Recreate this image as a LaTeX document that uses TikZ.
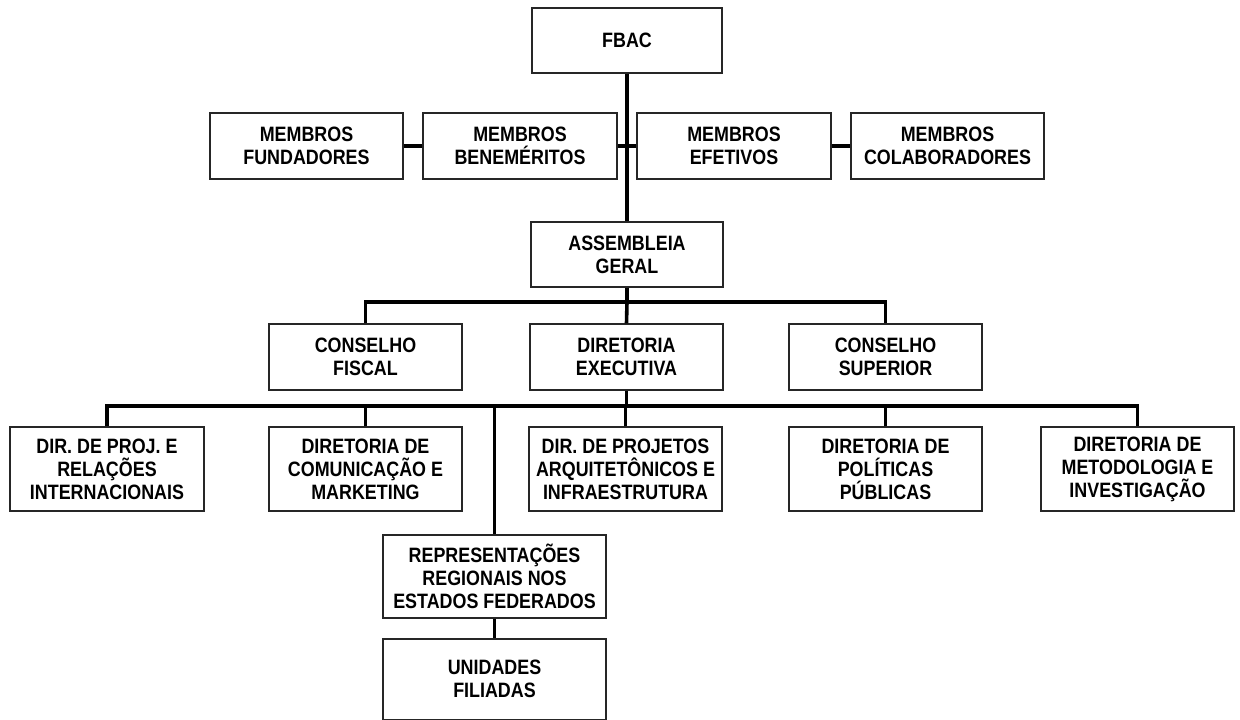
\documentclass[tikz,border=0pt]{standalone}
\usepackage{fontspec}
\setmainfont{Liberation Sans}
\newfontfamily\boxfont[FakeStretch=0.86]{Liberation Sans}
\begin{document}
\begin{tikzpicture}[x=1pt,y=-1pt,
  orgbox/.style={draw=black!85, line width=1.1pt, fill=white, inner sep=0pt,
    align=center, font=\boxfont\fontsize{20.8}{23}\selectfont\bfseries},
  conn/.style={line width=3.6pt, black}]
\useasboundingbox (0,0) rectangle (1240,720);
% level 1
\node[orgbox, minimum width=190pt, minimum height=65pt] (fbac) at (627,40.5) {FBAC};
% members
\node[orgbox, minimum width=193pt, minimum height=66pt] (fund) at (306.5,146) {MEMBROS\\FUNDADORES};
\node[orgbox, minimum width=194pt, minimum height=66pt] (bene) at (520,146) {MEMBROS\\BENEMÉRITOS};
\node[orgbox, minimum width=194pt, minimum height=66pt] (efet) at (734,146) {MEMBROS\\EFETIVOS};
\node[orgbox, minimum width=193pt, minimum height=66pt] (colab) at (947.5,146) {MEMBROS\\COLABORADORES};
% assembleia
\node[orgbox, minimum width=192pt, minimum height=65pt] (assem) at (627,254.5) {ASSEMBLEIA\\GERAL};
% level 3
\node[orgbox, minimum width=193pt, minimum height=66pt] (cfis) at (365.5,357) {CONSELHO\\FISCAL};
\node[orgbox, minimum width=193pt, minimum height=66pt] (dexe) at (626.5,357) {DIRETORIA\\EXECUTIVA};
\node[orgbox, minimum width=193pt, minimum height=66pt] (csup) at (885.5,357) {CONSELHO\\SUPERIOR};
% level 4
\node[orgbox, minimum width=194pt, minimum height=84pt] (d1) at (107,469) {DIR. DE PROJ. E\\RELAÇÕES\\INTERNACIONAIS};
\node[orgbox, minimum width=193pt, minimum height=84pt] (d2) at (365.5,469) {DIRETORIA DE\\COMUNICAÇÃO E\\MARKETING};
\node[orgbox, minimum width=193pt, minimum height=84pt] (d3) at (625.5,469) {DIR. DE PROJETOS\\ARQUITETÔNICOS E\\INFRAESTRUTURA};
\node[orgbox, minimum width=193pt, minimum height=84pt] (d4) at (885.5,469) {DIRETORIA DE\\POLÍTICAS\\PÚBLICAS};
\node[orgbox, minimum width=193pt, minimum height=84pt] (d5) at (1137.5,469) {DIRETORIA DE\\METODOLOGIA E\\INVESTIGAÇÃO};
% lower
\node[orgbox, minimum width=223pt, minimum height=83pt] (rep) at (494.5,576.5) {REPRESENTAÇÕES\\REGIONAIS NOS\\ESTADOS FEDERADOS};
\node[orgbox, minimum width=223pt, minimum height=80.5pt] (uni) at (494.5,679.25) {UNIDADES\\FILIADAS};
% connectors
\coordinate (b1) at (627,302);
\coordinate (b2) at (626.5,406);
\draw[conn] (fbac.south) -- (assem.north);
\draw[conn] (bene.east) -- (bene.east -| fbac.south);
\draw[conn] (efet.west) -- (efet.west -| fbac.south);
\draw[conn] (fund.east) -- (bene.west);
\draw[conn] (efet.east) -- (colab.west);
\draw[conn] (assem.south) -- (b1);
\draw[conn] (cfis.north) |- (b1) -| (csup.north);
\draw[conn] (b1) -- (dexe.north);
\draw[conn] (dexe.south) -- (b2);
\draw[conn] (d1.north) |- (b2) -| (d5.north);
\draw[conn] (d2.north) -- (d2.north |- b2);
\draw[conn] (d3.north) -- (d3.north |- b2);
\draw[conn] (d4.north) -- (d4.north |- b2);
\draw[conn] (rep.north |- b2) -- (rep.north);
\draw[conn] (rep.south) -- (uni.north);
\end{tikzpicture}
\end{document}
